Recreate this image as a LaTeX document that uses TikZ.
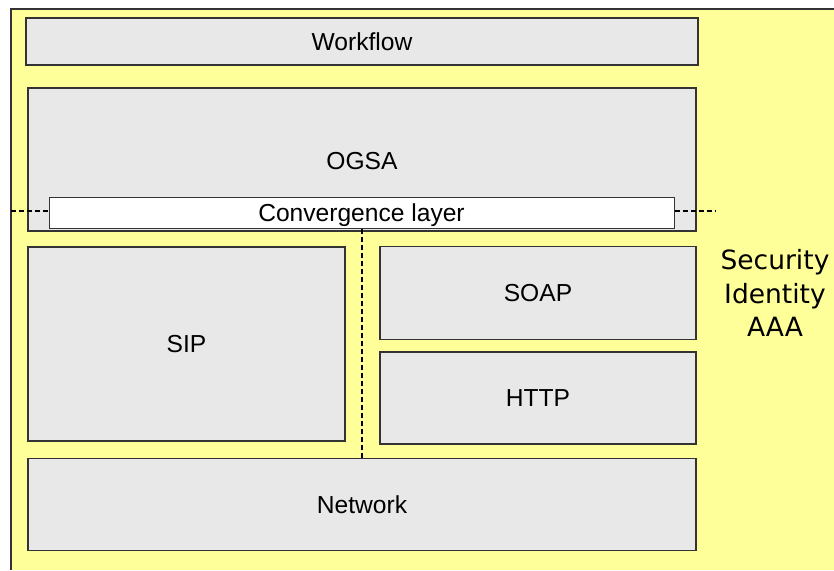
\documentclass[tikz,border=0pt]{standalone}
\usepackage{fontspec}
\setmainfont{Liberation Sans}
\newfontfamily\secfont{DejaVu Sans}
\definecolor{bgyellow}{HTML}{FFFF99}
\definecolor{boxgray}{HTML}{E8E8E8}
\definecolor{edgegray}{HTML}{333333}
\begin{document}
\begin{tikzpicture}[x=1pt,y=-1pt,
  txt/.style={font=\fontsize{24.6}{29}\selectfont,text height=17.6pt,text depth=0pt},
  layer/.style={txt,draw=edgegray,line width=1.2pt,fill=boxgray,inner sep=0pt},
  conv/.style={txt,draw=edgegray,line width=1pt,fill=white,inner sep=0pt},
  dashline/.style={line width=2.4pt,dash pattern=on 5pt off 3pt}]
\useasboundingbox (0,0) rectangle (834,570);
\fill[bgyellow] (11,9) rectangle (834,570);
\draw[edgegray,line width=1.2pt] (11,570) -- (11,9) -- (834,9);
% boxes
\node[layer,minimum width=672pt,minimum height=47pt] (workflow) at (362,41.5) {Workflow};
\node[layer,minimum width=668pt,minimum height=143pt] (ogsabox) at (362,159.5) {};
\node[txt] (ogsa) at (362,161) {OGSA};
\node[conv,minimum width=625pt,minimum height=31pt] (conv) at (361.5,213) {Convergence layer};
\node[layer,minimum width=317pt,minimum height=194pt] (sip) at (186.5,344) {SIP};
\node[layer,minimum width=316pt,minimum height=93pt] (soap) at (538,293) {SOAP};
\node[layer,minimum width=316pt,minimum height=92pt] (http) at (538,398) {HTTP};
\node[layer,minimum width=668pt,minimum height=92pt] (network) at (362,504.5) {Network};
% security text
\node[font=\secfont\fontsize{26.5}{33.5}\selectfont,align=center] (sec) at (775,293) {Security\\Identity\\AAA};
% dashed lines
\coordinate (dl) at (11,211);
\coordinate (dr) at (715,211);
\draw[dashline] (dl) -- (conv.west |- dl);
\draw[dashline] (conv.east |- dr) -- (dr);
\draw[dashline] (conv.south -| 362,0) -- (network.north -| 362,0);
\end{tikzpicture}
\end{document}
